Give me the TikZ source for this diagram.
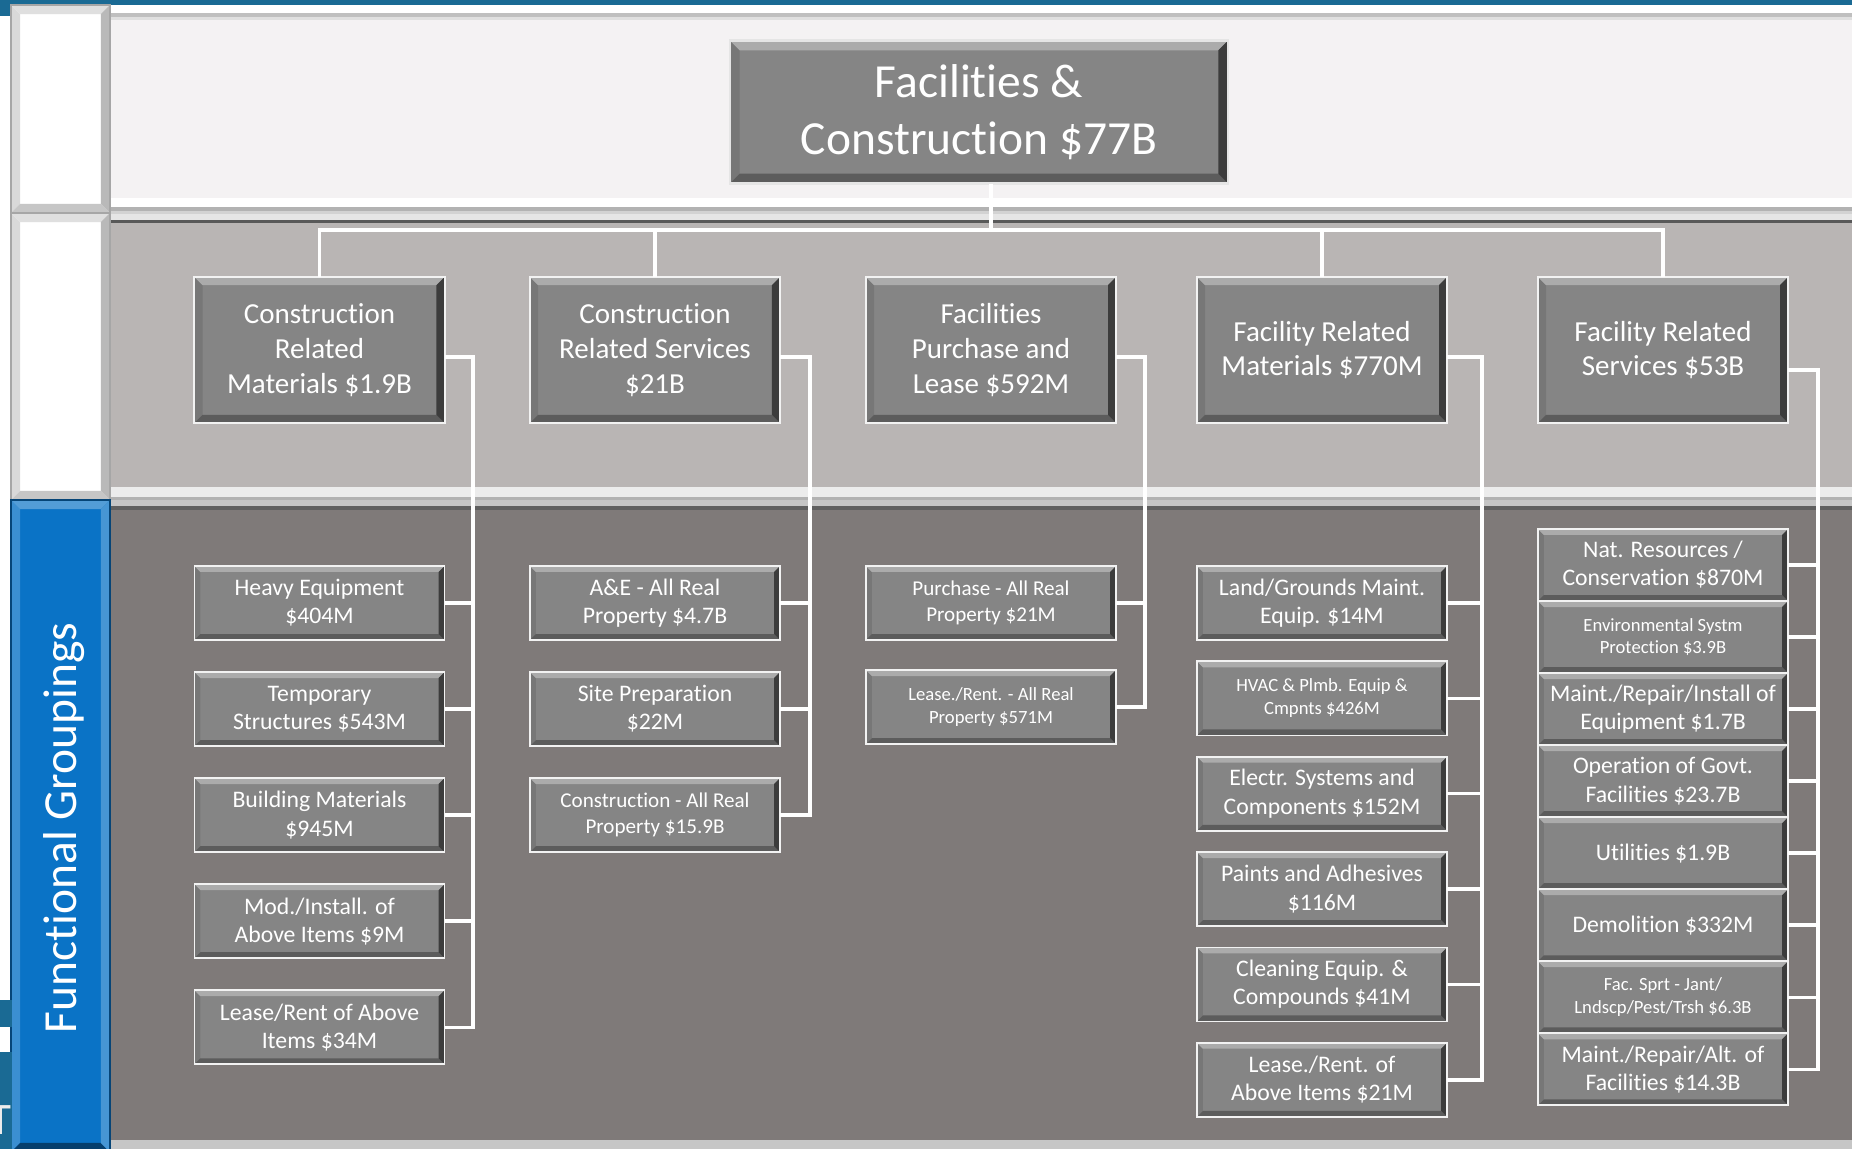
\documentclass[tikz,border=0pt]{standalone}
\usepackage{fontspec}
\setmainfont[Ligatures=CommonOff]{Carlito}
\usetikzlibrary{positioning,calc}

\definecolor{bandblue}{HTML}{1A6A94}
\definecolor{toppanel}{HTML}{F4F2F3}
\definecolor{midpanel}{HTML}{B9B5B4}
\definecolor{lowpanel}{HTML}{7F7A79}
\definecolor{sideblue}{HTML}{0A73C6}
\definecolor{boxgray}{HTML}{858585}
\definecolor{boxlight}{HTML}{ABABAB}
\definecolor{boxdark}{HTML}{3C3C3C}
\definecolor{boxmid}{HTML}{5C5C5C}
\definecolor{boxside}{HTML}{777777}

% bevel: depth, top, right, bottom, left
\newcommand{\boxbevel}[5]{%
  \fill[#5] (path picture bounding box.north west) -- (path picture bounding box.south west)
    -- ([shift={(#1,#1)}]path picture bounding box.south west) -- ([shift={(#1,-#1)}]path picture bounding box.north west) -- cycle;
  \fill[#2] (path picture bounding box.north west) -- (path picture bounding box.north east)
    -- ([shift={(-#1,-#1)}]path picture bounding box.north east) -- ([shift={(#1,-#1)}]path picture bounding box.north west) -- cycle;
  \fill[#4] (path picture bounding box.south west) -- (path picture bounding box.south east)
    -- ([shift={(-#1,#1)}]path picture bounding box.south east) -- ([shift={(#1,#1)}]path picture bounding box.south west) -- cycle;
  \fill[#3] (path picture bounding box.north east) -- (path picture bounding box.south east)
    -- ([shift={(-#1,#1)}]path picture bounding box.south east) -- ([shift={(-#1,-#1)}]path picture bounding box.north east) -- cycle;
}

\tikzset{
  topbox/.style={draw=white!80!gray, line width=0.6pt, fill=boxgray, text=white, align=center, outer sep=0pt,
    minimum width=4.98cm, minimum height=1.43cm, font=\fontsize{13.5}{16.2}\selectfont,
    path picture={\boxbevel{2.8pt}{boxlight}{boxdark}{boxmid}{boxside}}},
  grpbox/.style={draw=white!90!gray, line width=0.6pt, fill=boxgray, text=white, align=center, outer sep=0pt,
    minimum width=2.5cm, minimum height=1.46cm, font=\fontsize{8.25}{9.9}\selectfont,
    path picture={\boxbevel{2.3pt}{boxlight}{boxdark}{boxmid}{boxside}}},
  itembox/.style={draw=white!90!gray, line width=0.5pt, fill=boxgray, text=white, align=center, outer sep=0pt,
    minimum width=2.5cm, minimum height=0.74cm, inner sep=1pt, font=\fontsize{6.75}{8}\selectfont,
    path picture={\boxbevel{1.7pt}{boxlight}{boxdark}{boxmid}{boxside}}},
  midtext/.style={font=\fontsize{6}{7.4}\selectfont},
  smalltext/.style={font=\fontsize{5.3}{6.5}\selectfont},
  link/.style={draw=white, line width=1pt},
  sidepanel/.style={fill=white, draw=gray!70, line width=0.4pt,
    path picture={\boxbevel{2.6pt}{gray!25}{gray!55}{gray!45}{gray!30}}}
}

\begin{document}
\begin{tikzpicture}[x=0.01cm, y=0.01cm]
\useasboundingbox (0,0) rectangle (1852,-1149);

\fill[bandblue] (0,0) rectangle (1852,-5);
\fill[bandblue] (0,0) rectangle (12,-16);
\fill[gray!50] (110,-13) rectangle (1852,-17);
\fill[gray!25] (110,-17) rectangle (1852,-20);
\fill[toppanel] (110,-20) rectangle (1852,-198);
\fill[gray!60] (110,-207) rectangle (1852,-211);
\fill[gray!35] (110,-211) rectangle (1852,-214);
\fill[gray!20] (110,-214) rectangle (1852,-220);
\fill[gray!70!black] (110,-220) rectangle (1852,-223);
\fill[midpanel] (110,-223) rectangle (1852,-487);
\fill[white!85!gray] (110,-487) rectangle (1852,-497);
\fill[gray!60] (110,-497) rectangle (1852,-500);
\fill[gray!45] (110,-500) rectangle (1852,-506);
\fill[gray!75!black] (110,-506) rectangle (1852,-510);
\fill[lowpanel] (110,-510) rectangle (1852,-1140);
\fill[gray!45] (110,-1140) rectangle (1852,-1149);

\path[sidepanel] (11,-5) rectangle (110,-213);
\path[sidepanel] (11,-213) rectangle (110,-500);
\path[fill=sideblue, draw=sideblue!60!black, line width=0.6pt,
  path picture={\boxbevel{2.6pt}{sideblue!70!white}{sideblue!75!white}{sideblue!55!black}{sideblue!80!white}}]
  (11,-500) rectangle (110,-1152);
\node[rotate=90, text=white, font=\fontsize{13.5}{16}\selectfont] (fg) at (64,-828) {Functional Groupings};

\fill[bandblue] (0,-1000) rectangle (12,-1027);
\fill[bandblue] (0,-1052) rectangle (12,-1149);
\node[anchor=base, inner sep=0pt, text=white!85!gray, font=\fontsize{12.8}{15}\selectfont] (cut) at (0,-1134) {T};

\node[topbox] (top) at (979,-112) {Facilities \&\\Construction \$77B};

\node[grpbox] (grp1) at (319.5,-350) {Construction\\Related\\Materials \$1.9B};
\node[grpbox] (grp2) at (655,-350) {Construction\\Related Services\\\$21B};
\node[grpbox] (grp3) at (991,-350) {Facilities\\Purchase and\\Lease \$592M};
\node[grpbox] (grp4) at (1322,-350) {Facility Related\\Materials \$770M};
\node[grpbox] (grp5) at (1663,-350) {Facility Related\\Services \$53B};

\node[itembox] (cm1) at (319.5,-603) {Heavy Equipment\\\$404M};
\node[itembox, below=0.32cm of cm1] (cm2) {Temporary\\Structures \$543M};
\node[itembox, below=0.32cm of cm2] (cm3) {Building Materials\\\$945M};
\node[itembox, below=0.32cm of cm3] (cm4) {Mod./Install. of\\Above Items \$9M};
\node[itembox, below=0.32cm of cm4] (cm5) {Lease/Rent of Above\\Items \$34M};

\node[itembox] (cs1) at (655,-603) {A\&E - All Real\\Property \$4.7B};
\node[itembox, below=0.32cm of cs1] (cs2) {Site Preparation\\\$22M};
\node[itembox, midtext, below=0.32cm of cs2] (cs3) {Construction - All Real\\Property \$15.9B};

\node[itembox, midtext] (fp1) at (991,-603) {Purchase - All Real\\Property \$21M};
\node[itembox, smalltext, below=0.3cm of fp1] (fp2) {Lease./Rent. - All Real\\Property \$571M};

\node[itembox] (fm1) at (1322,-603) {Land/Grounds Maint.\\Equip. \$14M};
\node[itembox, smalltext, below=0.213cm of fm1] (fm2) {HVAC \& Plmb. Equip \&\\Cmpnts \$426M};
\node[itembox, below=0.213cm of fm2] (fm3) {Electr. Systems and\\Components \$152M};
\node[itembox, below=0.213cm of fm3] (fm4) {Paints and Adhesives\\\$116M};
\node[itembox, below=0.213cm of fm4] (fm5) {Cleaning Equip. \&\\Compounds \$41M};
\node[itembox, below=0.213cm of fm5] (fm6) {Lease./Rent. of\\Above Items \$21M};

\node[itembox, minimum height=0.72cm] (fs1) at (1663,-565) {Nat. Resources /\\Conservation \$870M};
\node[itembox, smalltext, minimum height=0.72cm, below=0cm of fs1] (fs2) {Environmental Systm\\Protection \$3.9B};
\node[itembox, minimum height=0.72cm, below=0cm of fs2] (fs3) {Maint./Repair/Install of\\Equipment \$1.7B};
\node[itembox, minimum height=0.72cm, below=0cm of fs3] (fs4) {Operation of Govt.\\Facilities \$23.7B};
\node[itembox, minimum height=0.72cm, below=0cm of fs4] (fs5) {Utilities \$1.9B};
\node[itembox, minimum height=0.72cm, below=0cm of fs5] (fs6) {Demolition \$332M};
\node[itembox, smalltext, minimum height=0.72cm, below=0cm of fs6] (fs7) {Fac. Sprt - Jant/\\Lndscp/Pest/Trsh \$6.3B};
\node[itembox, minimum height=0.72cm, below=0cm of fs7] (fs8) {Maint./Repair/Alt. of\\Facilities \$14.3B};

\coordinate (split) at (989,-230);
\coordinate (bus1) at (473,-400);
\coordinate (bus2) at (810,-400);
\coordinate (bus3) at (1145,-400);
\coordinate (bus4) at (1482,-400);
\coordinate (bus5) at (1818,-400);

\draw[link] (grp3.north |- top.south) -- (grp3.north |- split);
\draw[link] (grp1.north) |- (split) -| (grp5.north);
\foreach \g in {grp2,grp4} \draw[link] (\g.north) -- (\g.north |- split);

\draw[link] ([yshift=-0.07cm]grp1.east) -| (bus1 |- cm5.east) -- (cm5.east);
\foreach \i in {1,...,4} \draw[link] (cm\i.east) -- (cm\i.east -| bus1);
\draw[link] ([yshift=-0.07cm]grp2.east) -| (bus2 |- cs3.east) -- (cs3.east);
\foreach \i in {1,2} \draw[link] (cs\i.east) -- (cs\i.east -| bus2);
\draw[link] ([yshift=-0.07cm]grp3.east) -| (bus3 |- fp2.east) -- (fp2.east);
\draw[link] (fp1.east) -- (fp1.east -| bus3);
\draw[link] ([yshift=-0.07cm]grp4.east) -| (bus4 |- fm6.east) -- (fm6.east);
\foreach \i in {1,...,5} \draw[link] (fm\i.east) -- (fm\i.east -| bus4);
\draw[link] ([yshift=-0.2cm]grp5.east) -| (bus5 |- fs8.east) -- (fs8.east);
\foreach \i in {1,...,7} \draw[link] (fs\i.east) -- (fs\i.east -| bus5);
\end{tikzpicture}
\end{document}
